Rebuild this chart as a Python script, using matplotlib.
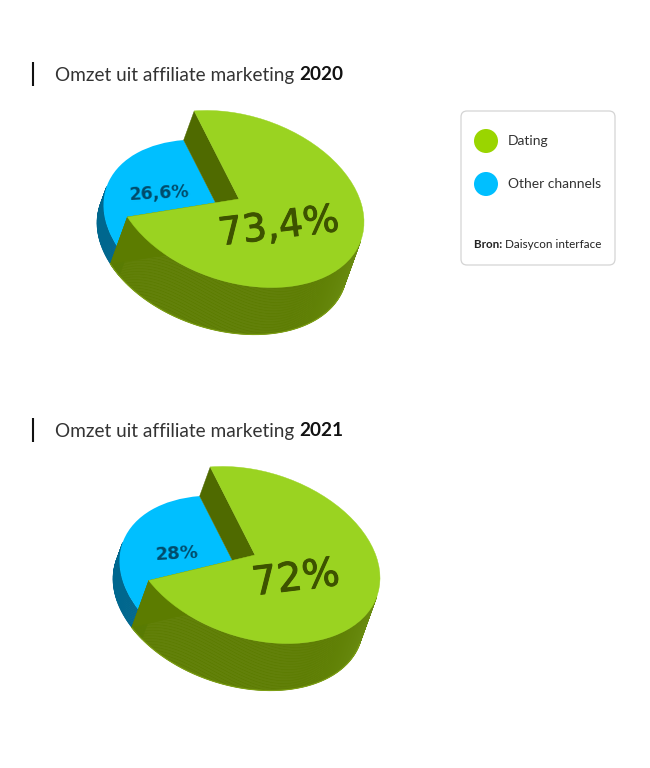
import numpy as np
import matplotlib
matplotlib.use("Agg")
import matplotlib.pyplot as plt
import matplotlib.patheffects as pe
from matplotlib.patches import Wedge, Polygon, FancyBboxPatch, Circle
from matplotlib.transforms import Affine2D

years = ["2020", "2021"]
dating = [73.4, 72.0]
other = [26.6, 28.0]
dating_labels = ["73,4%", "72%"]
other_labels = ["26,6%", "28%"]
categories = ["Dating", "Other channels"]

C_TOP = "#9AD321"
C_BLUE = "#00BFFF"
C_BLUE_WALL = "#00678E"
C_RADIAL = "#4F6A00"

plt.rcParams["font.family"] = ["Lato", "DejaVu Sans"]
fig = plt.figure(figsize=(6.5, 7.68), dpi=100)
ax = fig.add_axes([0, 0, 1, 1])
ax.set_xlim(0, 650)
ax.set_ylim(768, 0)
ax.axis("off")

A = np.array([[125.0, 0.0], [23.0, 85.5]])
E = np.array([-17.0, 47.0])
BLUE_DROP = 0.62
START = 249.0

def unit(t):
    t = np.radians(t)
    return np.stack([np.cos(t), np.sin(t)], axis=-1)

def to_px(t, c):
    return np.asarray(c) + unit(t) @ A.T

def tf(c):
    return Affine2D.from_values(A[0, 0], A[1, 0], A[0, 1], A[1, 1], c[0], c[1]) + ax.transData

def wall(t1, t2, c, vec, color=None, shade=False):
    ts = np.linspace(t1, t2, max(int(abs(t2 - t1)) * 2, 2) + 1)
    for a, b in zip(ts[:-1], ts[1:]):
        p = to_px(np.array([a, b]), c)
        col = color
        if shade:
            k = np.clip((60 - a) / 50, 0, 1)
            col = tuple((1 - k) * np.array([0x5C, 0x7C, 0x00]) / 255 + k * np.array([0x6C, 0x8E, 0x14]) / 255)
        ax.add_patch(Polygon([p[0], p[1], p[1] + vec, p[0] + vec], closed=True, fc=col, ec=col, lw=0.4))

def pie(c, green, blue, lab_g, lab_b, pos_g, pos_b, rot_g, rot_b, size_g, size_b):
    c = np.array(c, float)
    g_end = START + green / (green + blue) * 360.0
    g_end_n = g_end - 360.0
    drop = BLUE_DROP * E
    cb = c + drop
    rim_lo, rim_hi = 13.0, 193.0
    # blue disc, lower than the green slice
    wall(g_end_n - 8, rim_hi, cb, E - drop, color=C_BLUE_WALL)
    ax.add_patch(Wedge((0, 0), 1.0, g_end_n - 8, START, transform=tf(cb), fc=C_BLUE, ec="none"))
    # green walls
    p1 = to_px(np.array(START), c)
    p2 = to_px(np.array(g_end_n), c)
    ax.add_patch(Polygon([c, p1, p1 + drop, c + drop], closed=True, fc=C_RADIAL, ec=C_RADIAL, lw=0.3))
    ax.add_patch(Polygon([c, p2, p2 + E, c + E], closed=True, fc="#5C7C00", ec="#5C7C00", lw=0.3))
    wall(rim_lo, g_end_n, c, E, shade=True)
    rim = to_px(np.linspace(rim_lo, g_end_n, 200), c) + E
    ax.plot(rim[:, 0], rim[:, 1], color="#7C9E14", lw=0.8)
    ax.add_patch(Wedge((0, 0), 1.0, START, g_end, transform=tf(c), fc=C_TOP, ec=C_TOP, lw=0.3))
    ax.text(*pos_g, lab_g, rotation=rot_g, rotation_mode="anchor", ha="center", va="center",
            fontsize=size_g, color="#3D5200", family=["DejaVu Sans"],
            path_effects=[pe.withStroke(linewidth=0.7, foreground="#3D5200")])
    ax.text(*pos_b, lab_b, rotation=rot_b, rotation_mode="anchor", ha="center", va="center",
            fontsize=size_b, color="#004C6B", fontweight="bold", family=["DejaVu Sans"])

def title(y, year):
    ax.plot([33, 33], [y - 12, y + 12], color="#111111", lw=1.5, solid_capstyle="butt")
    t = ax.text(55, y + 1, "Omzet uit affiliate marketing ", fontsize=13.7, color="#333333", va="center", ha="left")
    ax.annotate(year, xy=(1, 0.5), xycoords=t, xytext=(0, 0), textcoords="offset points",
                fontsize=13.7, color="#111111", fontweight="bold", va="center", ha="left")

title(74, years[0])
title(430, years[1])

pie((239, 199), dating[0], other[0], dating_labels[0], other_labels[0], (279, 228), (159, 193), 7, 3, 27.5, 12.5)
pie((255, 555), dating[1], other[1], dating_labels[1], other_labels[1], (296, 579), (177, 554), 7, 3, 28.5, 13)

ax.add_patch(FancyBboxPatch((467, 117), 142, 142, boxstyle="round,pad=6,rounding_size=6",
                            fc="white", ec="#D4D4D4", lw=0.9))
for y, col, lab in zip([141, 184], ["#9AD500", C_BLUE], categories):
    ax.add_patch(Circle((486, y), 12, fc=col, ec="none"))
    ax.text(508, y, lab, fontsize=10, color="#333333", va="center", ha="left")
b = ax.text(474, 244.5, "Bron: ", fontsize=8.4, color="#222222", fontweight="bold", va="center", ha="left")
ax.annotate("Daisycon interface", xy=(1, 0.5), xycoords=b, xytext=(0, 0), textcoords="offset points",
            fontsize=8.4, color="#222222", va="center", ha="left")

fig.savefig("out.png", dpi=100, facecolor="white")
